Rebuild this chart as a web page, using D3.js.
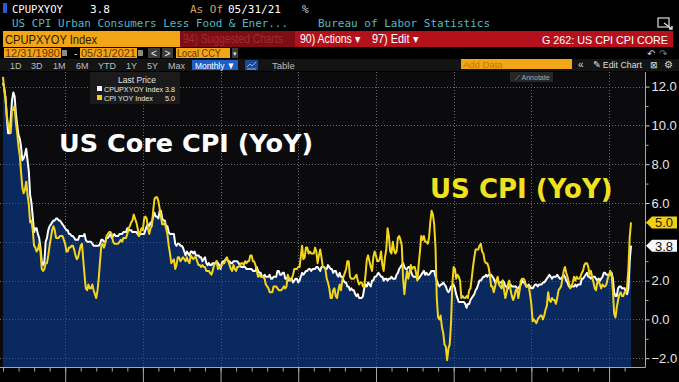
<!DOCTYPE html>
<html>
<head>
<meta charset="utf-8">
<script src="https://cdn.jsdelivr.net/npm/d3@7"></script>
<style>
html,body{margin:0;padding:0;background:#000;}
svg{display:block;}
</style>
</head>
<body>
<svg id="chart" width="679" height="382"></svg>
<script>
// ---------- DATA (monthly, Dec 1980 .. May 2021) ----------
const startMonth = [1980, 11]; // Dec 1980
const cpiYoY = [
12.5,
11.8,11.4,10.5,10.0,9.8,9.6,10.8,10.8,11.0,10.1,9.6,8.9,
8.4,7.6,6.8,6.5,6.7,7.1,6.4,5.9,5.0,5.1,4.6,3.8,
3.7,3.5,3.6,3.9,3.5,2.6,2.5,2.6,2.9,2.9,3.3,3.8,
4.2,4.6,4.8,4.6,4.2,4.2,4.2,4.3,4.3,4.3,4.1,3.9,
3.5,3.5,3.7,3.7,3.8,3.8,3.6,3.3,3.1,3.2,3.5,3.8,
3.9,3.1,2.3,1.6,1.5,1.8,1.6,1.6,1.8,1.5,1.3,1.1,
1.5,2.1,3.0,3.8,3.9,3.7,3.9,4.3,4.4,4.5,4.5,4.4,
4.0,3.9,3.9,3.9,3.9,4.0,4.1,4.0,4.2,4.2,4.2,4.4,
4.7,4.8,5.0,5.1,5.4,5.2,5.0,4.7,4.3,4.5,4.7,4.6,
5.2,5.3,5.2,4.7,4.4,4.7,4.8,5.6,6.2,6.3,6.3,6.1,
5.7,5.3,4.9,4.9,5.0,4.7,4.4,3.8,3.4,2.9,3.0,3.1,
2.6,2.8,3.2,3.2,3.0,3.1,3.2,3.1,3.0,3.2,3.0,2.9,
3.3,3.2,3.1,3.2,3.2,3.0,2.8,2.8,2.7,2.8,2.7,2.7,
2.5,2.5,2.5,2.4,2.3,2.5,2.8,2.9,3.0,2.6,2.7,2.7,
2.8,2.9,2.9,3.1,3.2,3.0,2.8,2.6,2.5,2.8,2.6,2.5,
2.7,2.7,2.8,2.9,2.9,2.8,3.0,2.9,3.0,3.0,3.3,3.3,
3.0,3.0,2.8,2.5,2.2,2.3,2.2,2.2,2.2,2.1,1.8,1.7,
1.6,1.4,1.4,1.4,1.7,1.7,1.7,1.6,1.5,1.5,1.5,1.6,
1.7,1.6,1.7,2.3,2.1,2.0,2.1,2.3,2.6,2.6,2.6,2.7,
2.7,3.2,3.8,3.1,3.2,3.7,3.7,3.4,3.5,3.4,3.4,3.4,
3.7,3.5,2.9,3.3,3.6,3.2,2.7,2.7,2.6,2.1,1.9,1.6,
1.1,1.1,1.5,1.6,1.2,1.1,1.5,1.8,1.5,2.0,2.2,2.4,
2.6,3.0,3.0,2.2,2.1,2.1,2.1,2.2,2.3,2.0,1.8,1.9,
1.9,1.7,1.7,2.3,3.1,3.3,3.0,2.7,2.5,3.2,3.5,3.3,
3.0,3.0,3.1,3.5,2.8,2.5,3.2,3.6,4.7,4.3,3.5,3.4,
4.0,3.6,3.4,3.5,4.2,4.3,4.1,3.8,2.1,1.3,2.0,2.5,
2.1,2.4,2.8,2.6,2.7,2.7,2.4,2.0,2.8,3.5,4.3,4.1,
4.3,4.0,4.0,3.9,4.2,5.0,5.6,5.4,4.9,3.7,1.1,0.1,
0.0,0.2,-0.4,-0.7,-1.3,-1.4,-2.1,-1.5,-1.3,-0.2,1.8,2.7,
2.6,2.1,2.3,2.2,2.0,1.1,1.2,1.1,1.1,1.2,1.1,1.5,
1.6,2.1,2.7,3.2,3.6,3.6,3.6,3.8,3.9,3.5,3.4,3.0,
2.9,2.9,2.7,2.3,1.7,1.7,1.4,1.7,2.0,2.2,1.8,1.7,
1.6,2.0,1.5,1.1,1.4,1.8,2.0,1.5,1.2,1.0,1.2,1.5,
1.6,1.1,1.5,2.0,2.1,2.1,2.0,1.7,1.7,1.7,1.3,0.8,
-0.1,0.0,-0.1,-0.2,0.0,0.1,0.2,0.2,0.0,0.2,0.5,0.7,
1.4,1.0,0.9,1.1,1.0,1.0,0.8,1.1,1.5,1.6,1.7,2.1,
2.5,2.7,2.4,2.2,1.9,1.6,1.7,1.9,2.2,2.0,2.2,2.1,
2.1,2.2,2.4,2.5,2.8,2.9,2.9,2.7,2.3,2.5,2.2,1.9,
1.6,1.5,1.9,2.0,1.8,1.6,1.8,1.7,1.7,1.8,2.1,2.3,
2.5,2.3,1.5,0.3,0.1,0.6,1.0,1.3,1.4,1.2,1.2,1.4,
1.4,1.7,2.6,4.2,5.0
];
const coreYoY = [
12.2,
11.9,11.4,10.4,9.6,9.6,10.3,11.3,11.7,11.5,10.6,10.0,9.5,
9.3,8.9,8.2,8.3,8.5,8.8,8.2,7.6,6.4,6.0,5.3,4.5,
4.7,4.7,4.4,4.2,3.7,3.0,2.8,3.0,4.0,4.2,4.6,4.8,
4.9,5.0,5.1,5.1,5.2,5.2,5.1,5.1,5.0,4.9,4.8,4.7,
4.6,4.6,4.4,4.4,4.3,4.3,4.2,4.1,4.1,4.1,4.3,4.3,
4.3,4.3,4.4,4.1,4.0,4.0,4.0,4.0,3.9,3.8,3.8,3.8,
3.8,3.8,3.9,4.1,4.1,4.0,4.0,4.2,4.2,4.3,4.4,4.2,
4.3,4.4,4.3,4.3,4.3,4.4,4.4,4.4,4.5,4.5,4.5,4.7,
4.6,4.6,4.6,4.5,4.5,4.5,4.5,4.4,4.3,4.4,4.4,4.4,
4.4,4.6,4.8,4.9,4.8,5.0,5.0,5.3,5.5,5.3,5.3,5.2,
5.6,5.6,5.2,5.1,5.1,4.8,4.8,4.5,4.4,4.4,4.4,4.4,
3.9,3.8,3.9,3.9,3.8,3.8,3.7,3.5,3.3,3.5,3.4,3.3,
3.5,3.5,3.4,3.5,3.3,3.3,3.3,3.2,3.2,3.0,3.1,3.2,
2.9,2.8,2.9,2.8,2.8,2.9,2.9,2.9,3.0,2.9,2.8,2.6,
2.9,3.0,3.0,3.1,3.1,3.0,3.0,2.9,2.9,3.0,3.0,3.0,
3.0,2.9,2.8,2.7,2.7,2.7,2.7,2.6,2.6,2.6,2.6,2.6,
2.5,2.5,2.5,2.7,2.5,2.4,2.4,2.2,2.2,2.3,2.2,2.2,
2.2,2.3,2.1,2.1,2.2,2.2,2.2,2.5,2.5,2.3,2.3,2.4,
2.4,2.1,2.1,2.2,2.0,2.1,2.1,1.9,2.0,2.1,2.1,1.9,
2.0,2.2,2.4,2.3,2.4,2.5,2.5,2.6,2.6,2.5,2.6,2.6,
2.6,2.7,2.7,2.6,2.5,2.7,2.7,2.7,2.6,2.6,2.8,2.7,
2.6,2.6,2.4,2.5,2.5,2.3,2.2,2.4,2.2,2.2,2.0,1.9,
1.9,1.7,1.7,1.5,1.6,1.5,1.5,1.3,1.2,1.3,1.1,1.1,
1.1,1.2,1.6,1.8,1.7,1.9,1.8,1.7,2.0,2.0,2.2,2.2,
2.3,2.4,2.3,2.2,2.2,2.0,2.1,2.1,2.0,2.1,2.1,2.2,
2.1,2.1,2.1,2.3,2.4,2.6,2.7,2.8,2.9,2.7,2.6,2.6,
2.7,2.7,2.5,2.3,2.2,2.2,2.2,2.1,2.1,2.2,2.3,2.4,
2.5,2.3,2.4,2.3,2.3,2.4,2.5,2.5,2.5,2.2,2.0,1.8,
1.7,1.8,1.8,1.9,1.8,1.7,1.5,1.4,1.5,1.7,1.7,1.8,
1.6,1.3,1.1,0.9,0.9,0.9,0.9,0.9,0.8,0.6,0.8,0.8,
1.0,1.1,1.2,1.3,1.5,1.6,1.8,2.0,2.0,2.1,2.2,2.2,
2.3,2.2,2.3,2.3,2.3,2.2,2.1,1.9,2.0,2.0,1.9,1.9,
1.9,2.0,1.9,1.7,1.7,1.6,1.7,1.8,1.7,1.7,1.7,1.7,
1.6,1.6,1.7,1.8,2.0,1.9,1.9,1.7,1.7,1.8,1.7,1.6,
1.6,1.7,1.8,1.8,1.7,1.8,1.8,1.8,1.9,1.9,2.0,2.1,
2.2,2.3,2.2,2.1,2.2,2.2,2.2,2.3,2.2,2.1,2.1,2.2,
2.3,2.2,2.0,1.9,1.7,1.7,1.7,1.7,1.7,1.8,1.7,1.8,
1.8,1.8,2.1,2.1,2.2,2.3,2.4,2.2,2.2,2.1,2.2,2.2,
2.2,2.1,2.0,2.1,2.0,2.1,2.2,2.4,2.4,2.3,2.3,2.3,
2.3,2.4,2.1,1.4,1.2,1.2,1.6,1.7,1.7,1.6,1.6,1.6,
1.4,1.3,1.6,3.0,3.8
];
const yTicks = [-2, 0, 2, 4, 6, 8, 10, 12];
const yLabelTicks = [-2, 0, 2, 6, 8, 10, 12];
const yMinorTicks = [-1, 1, 3, 5, 7, 9, 11];
const gridYears = [1985, 1990, 1995, 2000, 2005, 2010, 2015, 2020];
const lastCore = 3.8, lastCpi = 5.0;
const seriesNames = ["CPUPXYOY Index", "CPI YOY Index"];
const rangeTabs = ["1D", "3D", "1M", "6M", "YTD", "1Y", "5Y", "Max"];

// ---------- SETUP ----------
const svg = d3.select("#chart");
const W = 679, H = 382;
const plotTop = 72, plotBottom = 367, plotLeft = 0, plotRight = 645;
const dates = cpiYoY.map((_, i) => new Date(startMonth[0], startMonth[1] + i + 1, 0));
const x = d3.scaleTime().domain([dates[0], dates[dates.length - 1]]).range([3, 631]);
const y = d3.scaleLinear().domain([-2, 12]).range([358.2, 86.6]);

svg.append("rect").attr("width", W).attr("height", H).attr("fill", "#000");
svg.append("rect").attr("x", plotLeft).attr("y", plotTop).attr("width", plotRight - plotLeft)
  .attr("height", plotBottom - plotTop).attr("fill", "#0b0b0d");

function txt(g, xx, yy, s, o = {}) {
  const t = g.append("text").attr("x", xx).attr("y", yy).text(s)
    .attr("fill", o.fill || "#fff")
    .attr("font-family", o.family || "'Liberation Sans', Arial, sans-serif")
    .attr("font-size", o.size || 11);
  if (o.weight) t.attr("font-weight", o.weight);
  if (o.anchor) t.attr("text-anchor", o.anchor);
  if (o.pre) t.style("white-space", "pre");
  if (o.len) t.attr("textLength", o.len).attr("lengthAdjust", "spacingAndGlyphs");
  return t;
}
const mono = "'DejaVu Sans Mono', 'Liberation Mono', monospace";

// ---------- HEADER ----------
const hd = svg.append("g");
hd.append("rect").attr("x", 3).attr("y", 3).attr("width", 4).attr("height", 10).attr("fill", "#2a5bd7");
txt(hd, 12, 13, "CPUPXYOY", {family: mono, size: 11, len: 51});
txt(hd, 90, 13, "3.8", {family: mono, size: 11});
txt(hd, 190, 13, "As Of", {family: mono, size: 11, fill: "#d9a25f"});
txt(hd, 228, 13, "05/31/21", {family: mono, size: 11});
txt(hd, 302, 13, "%", {family: mono, size: 11, fill: "#cfcfcf"});
txt(hd, 12, 27, "US CPI Urban Consumers Less Food & Ener...", {family: mono, size: 11, fill: "#56b9c4", len: 276});
txt(hd, 318, 27, "Bureau of Labor Statistics", {family: mono, size: 11, fill: "#56b9c4", len: 172});
// fullscreen icon
hd.append("rect").attr("x", 658).attr("y", 18).attr("width", 11).attr("height", 9).attr("fill", "none").attr("stroke", "#ddd").attr("stroke-width", 1.2);
hd.append("path").attr("d", "M664,23 L672,29 M669,29 L672,29 L672,26").attr("stroke", "#ddd").attr("stroke-width", 1.4).attr("fill", "none");

// row 3
hd.append("rect").attr("x", 3).attr("y", 31).attr("width", 177).attr("height", 16).attr("fill", "#f2a516");
txt(hd, 5, 44, "CPUPXYOY Index", {size: 13, fill: "#2a1a00", len: 92});
hd.append("rect").attr("x", 180).attr("y", 31).attr("width", 115).attr("height", 16).attr("fill", "#7c0e14");
txt(hd, 183, 43, "94) Suggested Charts", {size: 12, fill: "#a32a33", len: 100});
hd.append("rect").attr("x", 295).attr("y", 31).attr("width", 378).attr("height", 16).attr("fill", "#b5111d");
txt(hd, 300, 43, "90) Actions ▾", {size: 12, fill: "#fff", len: 60});
txt(hd, 372, 43, "97) Edit ▾", {size: 12, fill: "#fff", len: 46});
txt(hd, 542, 43.5, "G 262: US CPI CPI CORE", {size: 11, fill: "#fff", len: 126});

// row 4
const orange = "#f2a516";
hd.append("rect").attr("x", 4).attr("y", 48).attr("width", 57).attr("height", 10).attr("fill", orange);
txt(hd, 5, 57, "12/31/1980", {size: 10, fill: "#6b3500", len: 55});
hd.append("rect").attr("x", 62).attr("y", 50).attr("width", 5).attr("height", 6).attr("fill", "#8a8a8a");
txt(hd, 74, 57, "-", {size: 10, fill: "#ddd"});
hd.append("rect").attr("x", 80).attr("y", 48).attr("width", 57).attr("height", 10).attr("fill", orange);
txt(hd, 81, 57, "05/31/2021", {size: 10, fill: "#6b3500", len: 55});
hd.append("rect").attr("x", 138).attr("y", 50).attr("width", 5).attr("height", 6).attr("fill", "#8a8a8a");
hd.append("rect").attr("x", 148).attr("y", 48).attr("width", 12).attr("height", 10).attr("fill", "#3c3c3c");
txt(hd, 154, 57, "<", {size: 10, fill: "#eee", anchor: "middle"});
hd.append("rect").attr("x", 162).attr("y", 48).attr("width", 11).attr("height", 10).attr("fill", "#3c3c3c");
txt(hd, 167.5, 57, ">", {size: 10, fill: "#eee", anchor: "middle"});
hd.append("rect").attr("x", 176).attr("y", 48).attr("width", 54).attr("height", 10).attr("fill", orange);
txt(hd, 177, 57, "Local CCY", {size: 10, fill: "#6b3500", len: 44});
hd.append("rect").attr("x", 232).attr("y", 48).attr("width", 6).attr("height", 10).attr("fill", "#3c3c3c");
txt(hd, 235, 56, "▾", {size: 7, fill: "#ddd", anchor: "middle"});
txt(hd, 647, 57, "↶", {size: 10, fill: "#cfcfcf"});
txt(hd, 659, 57, "↷", {size: 10, fill: "#7a7a7a"});

// row 5 toolbar
hd.append("rect").attr("x", 0).attr("y", 59).attr("width", W).attr("height", 12).attr("fill", "#141414");
const tabX = [10, 31, 53, 76, 98, 126, 147, 168];
rangeTabs.forEach((t, i) => txt(hd, tabX[i], 69, t, {size: 9, fill: "#bdbdbd"}));
hd.append("rect").attr("x", 192).attr("y", 60).attr("width", 46).attr("height", 10).attr("fill", "#1d5fc4");
txt(hd, 195, 69, "Monthly ▼", {size: 9.5, fill: "#fff", len: 40});
hd.append("rect").attr("x", 245).attr("y", 60).attr("width", 13).attr("height", 10).attr("fill", "#1b4a95");
hd.append("path").attr("d", "M247,67 L250,64 L252,66 L256,62 M247,69 L256,69").attr("stroke", "#9ec0ff").attr("fill", "none").attr("stroke-width", 0.9);
txt(hd, 272, 69, "Table", {size: 9.5, fill: "#bdbdbd"});
hd.append("rect").attr("x", 461).attr("y", 59).attr("width", 111).attr("height", 10).attr("fill", orange);
txt(hd, 463, 68, "Add Data", {size: 9.5, fill: "#c47a00"});
txt(hd, 578, 68, "«", {size: 10, fill: "#ddd"});
txt(hd, 593, 68, "✎ Edit Chart", {size: 9.5, fill: "#ddd", len: 49});
txt(hd, 650, 68, "⊠", {size: 9, fill: "#ddd"});
txt(hd, 664, 68, "⚙", {size: 10, fill: "#ddd"});

// ---------- GRID ----------
const grid = svg.append("g").attr("stroke", "#6a6a6a").attr("stroke-width", 1).attr("stroke-dasharray", "1,2");
grid.selectAll("line.h").data(yTicks).enter().append("line")
  .attr("x1", plotLeft).attr("x2", plotRight)
  .attr("y1", d => Math.round(y(d)) + 0.5).attr("y2", d => Math.round(y(d)) + 0.5);
grid.selectAll("line.v").data(gridYears).enter().append("line")
  .attr("x1", d => Math.round(x(new Date(d, 0, 1))) + 0.5).attr("x2", d => Math.round(x(new Date(d, 0, 1))) + 0.5)
  .attr("y1", plotTop).attr("y2", plotBottom);

// ---------- SERIES ----------
const area = d3.area().x((d, i) => x(dates[i])).y0(plotBottom).y1(d => y(d));
svg.append("path").datum(coreYoY).attr("d", area).attr("fill", "#0b2a5e");
svg.append("clipPath").attr("id", "areaClip").append("path").datum(coreYoY).attr("d", area);
const grid2 = svg.append("g").attr("stroke", "#4d6a99").attr("stroke-width", 1).attr("stroke-dasharray", "1,2").attr("opacity", 0.7)
  .attr("clip-path", "url(#areaClip)");
grid2.selectAll("line.h").data(yTicks).enter().append("line")
  .attr("x1", plotLeft).attr("x2", plotRight)
  .attr("y1", d => Math.round(y(d)) + 0.5).attr("y2", d => Math.round(y(d)) + 0.5);
grid2.selectAll("line.v").data(gridYears).enter().append("line")
  .attr("x1", d => Math.round(x(new Date(d, 0, 1))) + 0.5).attr("x2", d => Math.round(x(new Date(d, 0, 1))) + 0.5)
  .attr("y1", plotTop).attr("y2", plotBottom);

const line = d3.line().x((d, i) => x(dates[i])).y(d => y(d));
svg.append("path").datum(coreYoY).attr("d", line).attr("fill", "none")
  .attr("stroke", "#ffffff").attr("stroke-width", 2).attr("stroke-linejoin", "round");
svg.append("path").datum(cpiYoY).attr("d", line).attr("fill", "none")
  .attr("stroke", "#f3d51c").attr("stroke-width", 2).attr("stroke-linejoin", "round");

// ---------- AXES ----------
const ax = svg.append("g");
ax.append("line").attr("x1", 0).attr("x2", plotRight + 0.5).attr("y1", plotBottom + 0.5).attr("y2", plotBottom + 0.5).attr("stroke", "#a8a8a8");
ax.append("line").attr("x1", plotRight + 0.5).attr("x2", plotRight + 0.5).attr("y1", plotTop).attr("y2", plotBottom + 0.5).attr("stroke", "#a8a8a8");

const xMinor = d3.axisBottom(x).ticks(d3.timeYear.every(1)).tickFormat("").tickSize(4);
const xMajor = d3.axisBottom(x).tickValues(gridYears.map(d => new Date(d, 0, 1))).tickFormat("").tickSize(16);
[xMinor, xMajor].forEach(a => {
  const g = svg.append("g").attr("transform", `translate(0,${plotBottom + 0.5})`).call(a);
  g.select(".domain").remove();
  g.selectAll("line").attr("stroke", "#a8a8a8");
});

const yMinorAx = d3.axisRight(y).tickValues(yMinorTicks).tickFormat("").tickSize(3);
const yAx = d3.axisRight(y).tickValues(yLabelTicks).tickFormat(d3.format(".1f")).tickSize(4).tickPadding(2);
const gy1 = svg.append("g").attr("transform", `translate(${plotRight + 0.5},0)`).call(yMinorAx);
gy1.select(".domain").remove();
gy1.selectAll("line").attr("stroke", "#a8a8a8");
const gy = svg.append("g").attr("transform", `translate(${plotRight + 0.5},0)`).call(yAx);
gy.select(".domain").remove();
gy.selectAll("line").attr("stroke", "#cfcfcf");
gy.selectAll("text").attr("fill", "#e6e6e6").attr("font-size", 13)
  .attr("font-family", "'Liberation Sans', Arial, sans-serif");

// value tags
function tag(v, fill, tc) {
  const yy = y(v);
  svg.append("path").attr("d", `M${plotRight + 1},${yy} L${plotRight + 7},${yy - 6} L677,${yy - 6} L677,${yy + 6} L${plotRight + 7},${yy + 6} Z`)
    .attr("fill", fill);
  txt(svg, 664, yy + 5, d3.format(".1f")(v), {size: 13, fill: tc, anchor: "middle"});
}
tag(lastCpi, "#f2cf14", "#2a2200");
tag(lastCore, "#f7f7f7", "#111");

// ---------- LEGEND ----------
const lg = svg.append("g");
lg.append("rect").attr("x", 90).attr("y", 72).attr("width", 90).attr("height", 32).attr("fill", "#1b1b1b");
txt(lg, 137, 83, "Last Price", {size: 8.5, fill: "#e0e0e0", anchor: "middle"});
lg.append("rect").attr("x", 97).attr("y", 86).attr("width", 5).attr("height", 5).attr("fill", "#f5f5f5");
txt(lg, 104, 92, seriesNames[0] + " " + d3.format(".1f")(lastCore), {size: 8, fill: "#e8e8e8", len: 71, pre: true});
lg.append("rect").attr("x", 97).attr("y", 95).attr("width", 5).attr("height", 5).attr("fill", "#f2cf14");
txt(lg, 104, 101, seriesNames[1] + "      " + d3.format(".1f")(lastCpi), {size: 8, fill: "#e8e8e8", len: 71, pre: true});

// annotate button
svg.append("rect").attr("x", 510).attr("y", 72).attr("width", 43).attr("height", 10).attr("fill", "#262626");
txt(svg, 515, 80, "⟋ Annotate", {size: 7, fill: "#a8a8a8"});

// ---------- ANNOTATION TEXT ----------
txt(svg, 59, 152, "US Core CPI (YoY)", {size: 25.5, weight: "bold", fill: "#ffffff", family: "'DejaVu Sans', Verdana, sans-serif"});
txt(svg, 430, 198, "US CPI (YoY)", {size: 26, weight: "bold", fill: "#f1e21f", family: "'DejaVu Sans', Verdana, sans-serif"});
</script>
</body>
</html>
